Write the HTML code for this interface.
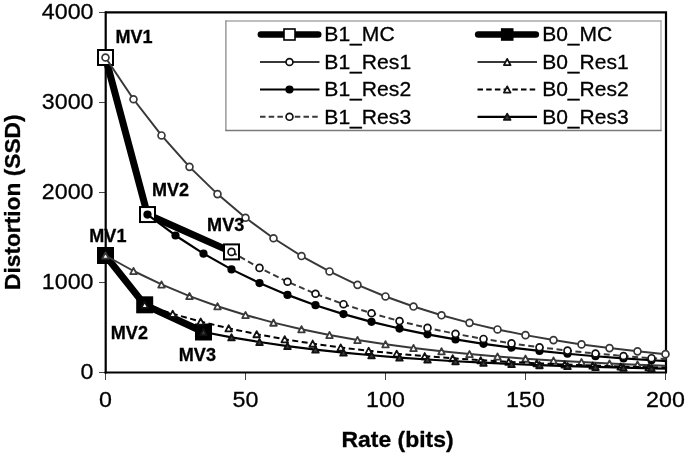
<!DOCTYPE html>
<html><head><meta charset="utf-8"><style>
html,body{margin:0;padding:0;background:#fff;}
svg{display:block;will-change:transform;}
text{font-family:"Liberation Sans",sans-serif;fill:#000;stroke:#000;stroke-width:0.3px;}
.tl{font-size:22.8px;}
.lg{font-size:20.4px;}
.mv{font-size:17.8px;font-weight:bold;}
.at{font-size:22px;font-weight:bold;}
</style></head><body>
<svg width="685" height="456" viewBox="0 0 685 456">
<defs><clipPath id="pa"><rect x="104" y="11" width="563" height="364"/></clipPath></defs>
<line x1="99" y1="372.50" x2="106" y2="372.50" stroke="#444" stroke-width="1"/>
<text transform="translate(93.5,379.20) scale(1.02,1)" text-anchor="end" class="tl">0</text>
<line x1="99" y1="282.50" x2="106" y2="282.50" stroke="#444" stroke-width="1"/>
<text transform="translate(93.5,289.20) scale(1.02,1)" text-anchor="end" class="tl">1000</text>
<line x1="99" y1="192.50" x2="106" y2="192.50" stroke="#444" stroke-width="1"/>
<text transform="translate(93.5,199.20) scale(1.02,1)" text-anchor="end" class="tl">2000</text>
<line x1="99" y1="102.50" x2="106" y2="102.50" stroke="#444" stroke-width="1"/>
<text transform="translate(93.5,109.20) scale(1.02,1)" text-anchor="end" class="tl">3000</text>
<line x1="99" y1="12.50" x2="106" y2="12.50" stroke="#444" stroke-width="1"/>
<text transform="translate(93.5,19.20) scale(1.02,1)" text-anchor="end" class="tl">4000</text>
<line x1="105.50" y1="372" x2="105.50" y2="380" stroke="#444" stroke-width="1"/>
<text transform="translate(105.50,406.6) scale(1.02,1)" text-anchor="middle" class="tl">0</text>
<line x1="245.50" y1="372" x2="245.50" y2="380" stroke="#444" stroke-width="1"/>
<text transform="translate(245.50,406.6) scale(1.02,1)" text-anchor="middle" class="tl">50</text>
<line x1="385.50" y1="372" x2="385.50" y2="380" stroke="#444" stroke-width="1"/>
<text transform="translate(385.50,406.6) scale(1.02,1)" text-anchor="middle" class="tl">100</text>
<line x1="525.50" y1="372" x2="525.50" y2="380" stroke="#444" stroke-width="1"/>
<text transform="translate(525.50,406.6) scale(1.02,1)" text-anchor="middle" class="tl">150</text>
<line x1="665.50" y1="372" x2="665.50" y2="380" stroke="#444" stroke-width="1"/>
<text transform="translate(665.50,406.6) scale(1.02,1)" text-anchor="middle" class="tl">200</text>
<path d="M105.5,12.3 H666 V372.5" fill="none" stroke="#000" stroke-width="2.2"/>
<line x1="105.7" y1="11.2" x2="105.7" y2="373.6" stroke="#000" stroke-width="2.2"/>
<line x1="104.6" y1="372.5" x2="667" y2="372.5" stroke="#000" stroke-width="2.2"/>
<rect x="225.9" y="21" width="435.1" height="109.5" fill="#fff"/>
<path d="M225.3,21 H661.6" stroke="#a8a8a8" stroke-width="1.3" fill="none"/>
<path d="M661,20.4 V131.1" stroke="#a8a8a8" stroke-width="1.3" fill="none"/>
<path d="M225.9,20.4 V131.1" stroke="#8a8a8a" stroke-width="1.3" fill="none"/>
<path d="M225.3,130.5 H661.6" stroke="#7a7a7a" stroke-width="1.3" fill="none"/>
<polyline points="105.50,57.50 147.50,214.55 231.50,251.90" fill="none" stroke="#000" stroke-width="7" stroke-linejoin="round"/>
<rect x="98.00" y="50.00" width="15" height="15" fill="#fff" stroke="#000" stroke-width="2"/>
<rect x="140.00" y="207.05" width="15" height="15" fill="#fff" stroke="#000" stroke-width="2"/>
<rect x="224.00" y="244.40" width="15" height="15" fill="#fff" stroke="#000" stroke-width="2"/>
<polyline points="105.50,255.50 144.70,304.82 203.50,332.00" fill="none" stroke="#000" stroke-width="7" stroke-linejoin="round"/>
<rect x="98.00" y="248.00" width="15" height="15" fill="#000" stroke="#000" stroke-width="2"/>
<rect x="137.20" y="297.32" width="15" height="15" fill="#000" stroke="#000" stroke-width="2"/>
<rect x="196.00" y="324.50" width="15" height="15" fill="#000" stroke="#000" stroke-width="2"/>
<polyline clip-path="url(#pa)" fill="none" stroke-linejoin="round" points="105.50,57.50 133.50,99.24 161.50,135.44 189.50,166.85 217.50,194.10 245.50,217.74 273.50,238.25 301.50,256.03 329.50,271.47 357.50,284.85 385.50,296.47 413.50,306.54 441.50,315.28 469.50,322.86 497.50,329.44 525.50,335.14 553.50,340.09 581.50,344.39 609.50,348.11 637.50,351.34 665.50,354.15" stroke="#383838" stroke-width="2"/>
<circle cx="105.50" cy="57.50" r="3.45" fill="#fff" stroke="#383838" stroke-width="1.7"/>
<circle cx="133.50" cy="99.24" r="3.45" fill="#fff" stroke="#383838" stroke-width="1.7"/>
<circle cx="161.50" cy="135.44" r="3.45" fill="#fff" stroke="#383838" stroke-width="1.7"/>
<circle cx="189.50" cy="166.85" r="3.45" fill="#fff" stroke="#383838" stroke-width="1.7"/>
<circle cx="217.50" cy="194.10" r="3.45" fill="#fff" stroke="#383838" stroke-width="1.7"/>
<circle cx="245.50" cy="217.74" r="3.45" fill="#fff" stroke="#383838" stroke-width="1.7"/>
<circle cx="273.50" cy="238.25" r="3.45" fill="#fff" stroke="#383838" stroke-width="1.7"/>
<circle cx="301.50" cy="256.03" r="3.45" fill="#fff" stroke="#383838" stroke-width="1.7"/>
<circle cx="329.50" cy="271.47" r="3.45" fill="#fff" stroke="#383838" stroke-width="1.7"/>
<circle cx="357.50" cy="284.85" r="3.45" fill="#fff" stroke="#383838" stroke-width="1.7"/>
<circle cx="385.50" cy="296.47" r="3.45" fill="#fff" stroke="#383838" stroke-width="1.7"/>
<circle cx="413.50" cy="306.54" r="3.45" fill="#fff" stroke="#383838" stroke-width="1.7"/>
<circle cx="441.50" cy="315.28" r="3.45" fill="#fff" stroke="#383838" stroke-width="1.7"/>
<circle cx="469.50" cy="322.86" r="3.45" fill="#fff" stroke="#383838" stroke-width="1.7"/>
<circle cx="497.50" cy="329.44" r="3.45" fill="#fff" stroke="#383838" stroke-width="1.7"/>
<circle cx="525.50" cy="335.14" r="3.45" fill="#fff" stroke="#383838" stroke-width="1.7"/>
<circle cx="553.50" cy="340.09" r="3.45" fill="#fff" stroke="#383838" stroke-width="1.7"/>
<circle cx="581.50" cy="344.39" r="3.45" fill="#fff" stroke="#383838" stroke-width="1.7"/>
<circle cx="609.50" cy="348.11" r="3.45" fill="#fff" stroke="#383838" stroke-width="1.7"/>
<circle cx="637.50" cy="351.34" r="3.45" fill="#fff" stroke="#383838" stroke-width="1.7"/>
<circle cx="665.50" cy="354.15" r="3.45" fill="#fff" stroke="#383838" stroke-width="1.7"/>
<polyline clip-path="url(#pa)" fill="none" stroke-linejoin="round" points="105.50,255.50 133.50,271.00 161.50,284.45 189.50,296.12 217.50,306.24 245.50,315.02 273.50,322.63 301.50,329.24 329.50,334.97 357.50,339.95 385.50,344.26 413.50,348.00 441.50,351.25 469.50,354.06 497.50,356.51 525.50,358.63 553.50,360.46 581.50,362.06 609.50,363.44 637.50,364.64 665.50,365.68" stroke="#383838" stroke-width="2"/>
<polygon points="105.50,252.40 108.80,258.60 102.20,258.60" fill="#fff" stroke="#3a3a3a" stroke-width="1.8" stroke-linejoin="round"/>
<polygon points="133.50,267.90 136.80,274.10 130.20,274.10" fill="#fff" stroke="#3a3a3a" stroke-width="1.8" stroke-linejoin="round"/>
<polygon points="161.50,281.35 164.80,287.55 158.20,287.55" fill="#fff" stroke="#3a3a3a" stroke-width="1.8" stroke-linejoin="round"/>
<polygon points="189.50,293.02 192.80,299.22 186.20,299.22" fill="#fff" stroke="#3a3a3a" stroke-width="1.8" stroke-linejoin="round"/>
<polygon points="217.50,303.14 220.80,309.34 214.20,309.34" fill="#fff" stroke="#3a3a3a" stroke-width="1.8" stroke-linejoin="round"/>
<polygon points="245.50,311.92 248.80,318.12 242.20,318.12" fill="#fff" stroke="#3a3a3a" stroke-width="1.8" stroke-linejoin="round"/>
<polygon points="273.50,319.53 276.80,325.73 270.20,325.73" fill="#fff" stroke="#3a3a3a" stroke-width="1.8" stroke-linejoin="round"/>
<polygon points="301.50,326.14 304.80,332.34 298.20,332.34" fill="#fff" stroke="#3a3a3a" stroke-width="1.8" stroke-linejoin="round"/>
<polygon points="329.50,331.87 332.80,338.07 326.20,338.07" fill="#fff" stroke="#3a3a3a" stroke-width="1.8" stroke-linejoin="round"/>
<polygon points="357.50,336.85 360.80,343.05 354.20,343.05" fill="#fff" stroke="#3a3a3a" stroke-width="1.8" stroke-linejoin="round"/>
<polygon points="385.50,341.16 388.80,347.36 382.20,347.36" fill="#fff" stroke="#3a3a3a" stroke-width="1.8" stroke-linejoin="round"/>
<polygon points="413.50,344.90 416.80,351.10 410.20,351.10" fill="#fff" stroke="#3a3a3a" stroke-width="1.8" stroke-linejoin="round"/>
<polygon points="441.50,348.15 444.80,354.35 438.20,354.35" fill="#fff" stroke="#3a3a3a" stroke-width="1.8" stroke-linejoin="round"/>
<polygon points="469.50,350.96 472.80,357.16 466.20,357.16" fill="#fff" stroke="#3a3a3a" stroke-width="1.8" stroke-linejoin="round"/>
<polygon points="497.50,353.41 500.80,359.61 494.20,359.61" fill="#fff" stroke="#3a3a3a" stroke-width="1.8" stroke-linejoin="round"/>
<polygon points="525.50,355.53 528.80,361.73 522.20,361.73" fill="#fff" stroke="#3a3a3a" stroke-width="1.8" stroke-linejoin="round"/>
<polygon points="553.50,357.36 556.80,363.56 550.20,363.56" fill="#fff" stroke="#3a3a3a" stroke-width="1.8" stroke-linejoin="round"/>
<polygon points="581.50,358.96 584.80,365.16 578.20,365.16" fill="#fff" stroke="#3a3a3a" stroke-width="1.8" stroke-linejoin="round"/>
<polygon points="609.50,360.34 612.80,366.54 606.20,366.54" fill="#fff" stroke="#3a3a3a" stroke-width="1.8" stroke-linejoin="round"/>
<polygon points="637.50,361.54 640.80,367.74 634.20,367.74" fill="#fff" stroke="#3a3a3a" stroke-width="1.8" stroke-linejoin="round"/>
<polyline clip-path="url(#pa)" fill="none" stroke-linejoin="round" points="147.50,214.55 175.50,235.48 203.50,253.63 231.50,269.38 259.50,283.05 287.50,294.90 315.50,305.18 343.50,314.10 371.50,321.84 399.50,328.55 427.50,334.37 455.50,339.43 483.50,343.81 511.50,347.61 539.50,350.91 567.50,353.77 595.50,356.25 623.50,358.40 651.50,360.27 679.50,361.89" stroke="#000" stroke-width="2.2"/>
<circle cx="147.50" cy="214.55" r="4.1" fill="#000"/>
<circle cx="175.50" cy="235.48" r="4.1" fill="#000"/>
<circle cx="203.50" cy="253.63" r="4.1" fill="#000"/>
<circle cx="231.50" cy="269.38" r="4.1" fill="#000"/>
<circle cx="259.50" cy="283.05" r="4.1" fill="#000"/>
<circle cx="287.50" cy="294.90" r="4.1" fill="#000"/>
<circle cx="315.50" cy="305.18" r="4.1" fill="#000"/>
<circle cx="343.50" cy="314.10" r="4.1" fill="#000"/>
<circle cx="371.50" cy="321.84" r="4.1" fill="#000"/>
<circle cx="399.50" cy="328.55" r="4.1" fill="#000"/>
<circle cx="427.50" cy="334.37" r="4.1" fill="#000"/>
<circle cx="455.50" cy="339.43" r="4.1" fill="#000"/>
<circle cx="483.50" cy="343.81" r="4.1" fill="#000"/>
<circle cx="511.50" cy="347.61" r="4.1" fill="#000"/>
<circle cx="539.50" cy="350.91" r="4.1" fill="#000"/>
<circle cx="567.50" cy="353.77" r="4.1" fill="#000"/>
<circle cx="595.50" cy="356.25" r="4.1" fill="#000"/>
<circle cx="623.50" cy="358.40" r="4.1" fill="#000"/>
<circle cx="651.50" cy="360.27" r="4.1" fill="#000"/>
<polyline clip-path="url(#pa)" fill="none" stroke-linejoin="round" points="144.70,304.82 172.70,313.79 200.70,321.57 228.70,328.32 256.70,334.17 284.70,339.25 312.70,343.65 340.70,347.48 368.70,350.79 396.70,353.67 424.70,356.16 452.70,358.33 480.70,360.21 508.70,361.83 536.70,363.25 564.70,364.47 592.70,365.54 620.70,366.46 648.70,367.26 676.70,367.95" stroke="#000" stroke-width="2" stroke-dasharray="6,3.5"/>
<polygon points="144.70,301.72 148.00,307.92 141.40,307.92" fill="#fff" stroke="#111" stroke-width="1.8" stroke-linejoin="round"/>
<polygon points="172.70,310.69 176.00,316.89 169.40,316.89" fill="#fff" stroke="#111" stroke-width="1.8" stroke-linejoin="round"/>
<polygon points="200.70,318.47 204.00,324.67 197.40,324.67" fill="#fff" stroke="#111" stroke-width="1.8" stroke-linejoin="round"/>
<polygon points="228.70,325.22 232.00,331.42 225.40,331.42" fill="#fff" stroke="#111" stroke-width="1.8" stroke-linejoin="round"/>
<polygon points="256.70,331.07 260.00,337.27 253.40,337.27" fill="#fff" stroke="#111" stroke-width="1.8" stroke-linejoin="round"/>
<polygon points="284.70,336.15 288.00,342.35 281.40,342.35" fill="#fff" stroke="#111" stroke-width="1.8" stroke-linejoin="round"/>
<polygon points="312.70,340.55 316.00,346.75 309.40,346.75" fill="#fff" stroke="#111" stroke-width="1.8" stroke-linejoin="round"/>
<polygon points="340.70,344.38 344.00,350.58 337.40,350.58" fill="#fff" stroke="#111" stroke-width="1.8" stroke-linejoin="round"/>
<polygon points="368.70,347.69 372.00,353.89 365.40,353.89" fill="#fff" stroke="#111" stroke-width="1.8" stroke-linejoin="round"/>
<polygon points="396.70,350.57 400.00,356.77 393.40,356.77" fill="#fff" stroke="#111" stroke-width="1.8" stroke-linejoin="round"/>
<polygon points="424.70,353.06 428.00,359.26 421.40,359.26" fill="#fff" stroke="#111" stroke-width="1.8" stroke-linejoin="round"/>
<polygon points="452.70,355.23 456.00,361.43 449.40,361.43" fill="#fff" stroke="#111" stroke-width="1.8" stroke-linejoin="round"/>
<polygon points="480.70,357.11 484.00,363.31 477.40,363.31" fill="#fff" stroke="#111" stroke-width="1.8" stroke-linejoin="round"/>
<polygon points="508.70,358.73 512.00,364.93 505.40,364.93" fill="#fff" stroke="#111" stroke-width="1.8" stroke-linejoin="round"/>
<polygon points="536.70,360.15 540.00,366.35 533.40,366.35" fill="#fff" stroke="#111" stroke-width="1.8" stroke-linejoin="round"/>
<polygon points="564.70,361.37 568.00,367.57 561.40,367.57" fill="#fff" stroke="#111" stroke-width="1.8" stroke-linejoin="round"/>
<polygon points="592.70,362.44 596.00,368.64 589.40,368.64" fill="#fff" stroke="#111" stroke-width="1.8" stroke-linejoin="round"/>
<polygon points="620.70,363.36 624.00,369.56 617.40,369.56" fill="#fff" stroke="#111" stroke-width="1.8" stroke-linejoin="round"/>
<polygon points="648.70,364.16 652.00,370.36 645.40,370.36" fill="#fff" stroke="#111" stroke-width="1.8" stroke-linejoin="round"/>
<polyline clip-path="url(#pa)" fill="none" stroke-linejoin="round" points="231.50,251.90 259.50,267.88 287.50,281.74 315.50,293.77 343.50,304.20 371.50,313.25 399.50,321.10 427.50,327.91 455.50,333.82 483.50,338.94 511.50,343.39 539.50,347.25 567.50,350.59 595.50,353.50 623.50,356.01 651.50,358.20 679.50,360.09" stroke="#383838" stroke-width="2" stroke-dasharray="6,3.5"/>
<circle cx="231.50" cy="251.90" r="3.45" fill="#fff" stroke="#111" stroke-width="1.7"/>
<circle cx="259.50" cy="267.88" r="3.45" fill="#fff" stroke="#111" stroke-width="1.7"/>
<circle cx="287.50" cy="281.74" r="3.45" fill="#fff" stroke="#111" stroke-width="1.7"/>
<circle cx="315.50" cy="293.77" r="3.45" fill="#fff" stroke="#111" stroke-width="1.7"/>
<circle cx="343.50" cy="304.20" r="3.45" fill="#fff" stroke="#111" stroke-width="1.7"/>
<circle cx="371.50" cy="313.25" r="3.45" fill="#fff" stroke="#111" stroke-width="1.7"/>
<circle cx="399.50" cy="321.10" r="3.45" fill="#fff" stroke="#111" stroke-width="1.7"/>
<circle cx="427.50" cy="327.91" r="3.45" fill="#fff" stroke="#111" stroke-width="1.7"/>
<circle cx="455.50" cy="333.82" r="3.45" fill="#fff" stroke="#111" stroke-width="1.7"/>
<circle cx="483.50" cy="338.94" r="3.45" fill="#fff" stroke="#111" stroke-width="1.7"/>
<circle cx="511.50" cy="343.39" r="3.45" fill="#fff" stroke="#111" stroke-width="1.7"/>
<circle cx="539.50" cy="347.25" r="3.45" fill="#fff" stroke="#111" stroke-width="1.7"/>
<circle cx="567.50" cy="350.59" r="3.45" fill="#fff" stroke="#111" stroke-width="1.7"/>
<circle cx="595.50" cy="353.50" r="3.45" fill="#fff" stroke="#111" stroke-width="1.7"/>
<circle cx="623.50" cy="356.01" r="3.45" fill="#fff" stroke="#111" stroke-width="1.7"/>
<circle cx="651.50" cy="358.20" r="3.45" fill="#fff" stroke="#111" stroke-width="1.7"/>
<polyline clip-path="url(#pa)" fill="none" stroke-linejoin="round" points="203.50,332.00 231.50,337.37 259.50,342.02 287.50,346.06 315.50,349.56 343.50,352.60 371.50,355.24 399.50,357.53 427.50,359.51 455.50,361.23 483.50,362.72 511.50,364.02 539.50,365.14 567.50,366.12 595.50,366.96 623.50,367.70 651.50,368.33 679.50,368.89" stroke="#000" stroke-width="2.2"/>
<polygon points="203.50,328.90 206.80,335.10 200.20,335.10" fill="#3a3a3a" stroke="#111" stroke-width="1.8" stroke-linejoin="round"/>
<polygon points="231.50,334.27 234.80,340.47 228.20,340.47" fill="#3a3a3a" stroke="#111" stroke-width="1.8" stroke-linejoin="round"/>
<polygon points="259.50,338.92 262.80,345.12 256.20,345.12" fill="#3a3a3a" stroke="#111" stroke-width="1.8" stroke-linejoin="round"/>
<polygon points="287.50,342.96 290.80,349.16 284.20,349.16" fill="#3a3a3a" stroke="#111" stroke-width="1.8" stroke-linejoin="round"/>
<polygon points="315.50,346.46 318.80,352.66 312.20,352.66" fill="#3a3a3a" stroke="#111" stroke-width="1.8" stroke-linejoin="round"/>
<polygon points="343.50,349.50 346.80,355.70 340.20,355.70" fill="#3a3a3a" stroke="#111" stroke-width="1.8" stroke-linejoin="round"/>
<polygon points="371.50,352.14 374.80,358.34 368.20,358.34" fill="#3a3a3a" stroke="#111" stroke-width="1.8" stroke-linejoin="round"/>
<polygon points="399.50,354.43 402.80,360.63 396.20,360.63" fill="#3a3a3a" stroke="#111" stroke-width="1.8" stroke-linejoin="round"/>
<polygon points="427.50,356.41 430.80,362.61 424.20,362.61" fill="#3a3a3a" stroke="#111" stroke-width="1.8" stroke-linejoin="round"/>
<polygon points="455.50,358.13 458.80,364.33 452.20,364.33" fill="#3a3a3a" stroke="#111" stroke-width="1.8" stroke-linejoin="round"/>
<polygon points="483.50,359.62 486.80,365.82 480.20,365.82" fill="#3a3a3a" stroke="#111" stroke-width="1.8" stroke-linejoin="round"/>
<polygon points="511.50,360.92 514.80,367.12 508.20,367.12" fill="#3a3a3a" stroke="#111" stroke-width="1.8" stroke-linejoin="round"/>
<polygon points="539.50,362.04 542.80,368.24 536.20,368.24" fill="#3a3a3a" stroke="#111" stroke-width="1.8" stroke-linejoin="round"/>
<polygon points="567.50,363.02 570.80,369.22 564.20,369.22" fill="#3a3a3a" stroke="#111" stroke-width="1.8" stroke-linejoin="round"/>
<polygon points="595.50,363.86 598.80,370.06 592.20,370.06" fill="#3a3a3a" stroke="#111" stroke-width="1.8" stroke-linejoin="round"/>
<polygon points="623.50,364.60 626.80,370.80 620.20,370.80" fill="#3a3a3a" stroke="#111" stroke-width="1.8" stroke-linejoin="round"/>
<polygon points="651.50,365.23 654.80,371.43 648.20,371.43" fill="#3a3a3a" stroke="#111" stroke-width="1.8" stroke-linejoin="round"/>
<text transform="translate(115.4,42.6) scale(1.015,1)" class="mv">MV1</text>
<text transform="translate(151.9,195.8) scale(1.015,1)" class="mv">MV2</text>
<text transform="translate(207.1,230.8) scale(1.015,1)" class="mv">MV3</text>
<text transform="translate(89.3,241.7) scale(1.015,1)" class="mv">MV1</text>
<text transform="translate(110.8,338.5) scale(1.015,1)" class="mv">MV2</text>
<text transform="translate(178.8,360.8) scale(1.015,1)" class="mv">MV3</text>
<line x1="260.9" y1="34.5" x2="318.2" y2="34.5" stroke="#000" stroke-width="6.6" stroke-linecap="round"/>
<rect x="284" y="29.0" width="11" height="11" fill="#fff" stroke="#000" stroke-width="1.6"/>
<line x1="478.2" y1="34.5" x2="535.8" y2="34.5" stroke="#000" stroke-width="6.6" stroke-linecap="round"/>
<rect x="501.7" y="29.0" width="11" height="11" fill="#000" stroke="#000" stroke-width="1.6"/>
<line x1="260.0" y1="62.0" x2="319.5" y2="62.0" stroke="#383838" stroke-width="1.8" stroke-linecap="butt"/>
<circle cx="289.50" cy="62.00" r="3.45" fill="#fff" stroke="#111" stroke-width="1.7"/>
<line x1="477.5" y1="62.0" x2="537.0" y2="62.0" stroke="#383838" stroke-width="1.8" stroke-linecap="butt"/>
<polygon points="507.20,58.90 510.50,65.10 503.90,65.10" fill="#fff" stroke="#111" stroke-width="1.8" stroke-linejoin="round"/>
<line x1="260.0" y1="89.5" x2="319.5" y2="89.5" stroke="#000" stroke-width="2.2" stroke-linecap="butt"/>
<circle cx="289.50" cy="89.50" r="4.1" fill="#000"/>
<line x1="477.5" y1="89.5" x2="537.0" y2="89.5" stroke="#000" stroke-width="2" stroke-linecap="butt" stroke-dasharray="5.5,3.2"/>
<polygon points="507.20,86.40 510.50,92.60 503.90,92.60" fill="#fff" stroke="#111" stroke-width="1.8" stroke-linejoin="round"/>
<line x1="260.0" y1="116.8" x2="319.5" y2="116.8" stroke="#383838" stroke-width="2" stroke-linecap="butt" stroke-dasharray="5.5,3.2"/>
<circle cx="289.50" cy="116.80" r="3.45" fill="#fff" stroke="#111" stroke-width="1.7"/>
<line x1="477.5" y1="116.8" x2="537.0" y2="116.8" stroke="#000" stroke-width="2.2" stroke-linecap="butt"/>
<polygon points="507.20,113.70 510.50,119.90 503.90,119.90" fill="#3a3a3a" stroke="#111" stroke-width="1.8" stroke-linejoin="round"/>
<text transform="translate(324.3,41.0) scale(1.035,1)" class="lg">B1_MC</text>
<text transform="translate(542.2,41.0) scale(1.03,1)" class="lg">B0_MC</text>
<text transform="translate(324.3,68.7) scale(1.035,1)" class="lg">B1_Res1</text>
<text transform="translate(542.2,68.7) scale(1.03,1)" class="lg">B0_Res1</text>
<text transform="translate(324.3,96.3) scale(1.035,1)" class="lg">B1_Res2</text>
<text transform="translate(542.2,96.3) scale(1.03,1)" class="lg">B0_Res2</text>
<text transform="translate(324.3,123.5) scale(1.035,1)" class="lg">B1_Res3</text>
<text transform="translate(542.2,123.5) scale(1.03,1)" class="lg">B0_Res3</text>
<text transform="translate(397.5,447.2) scale(1.043,1)" text-anchor="middle" class="at">Rate (bits)</text>
<text transform="translate(19.7,202.2) rotate(-90) scale(1.034,1)" text-anchor="middle" class="at">Distortion (SSD)</text>
</svg>
</body></html>
